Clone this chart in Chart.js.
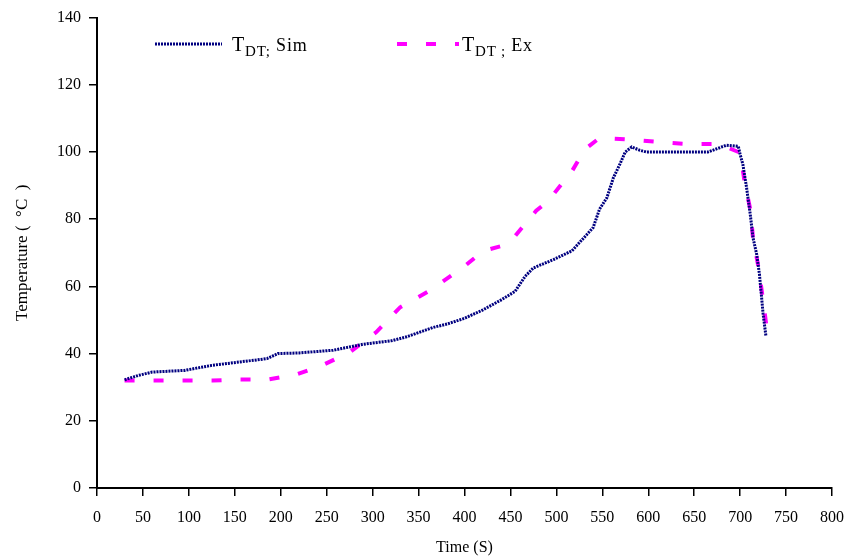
<!DOCTYPE html>
<html>
<head>
<meta charset="utf-8">
<script src="https://cdn.jsdelivr.net/npm/chart.js@4.4.1/dist/chart.umd.min.js"></script>
<style>
  html, body { margin: 0; padding: 0; background: #fff; }
  #wrap { position: relative; width: 858px; height: 560px; }
  canvas { position: absolute; left: 0; top: 0; }
  .leg { position: absolute; font-family: "Liberation Serif", "DejaVu Serif", serif; font-size: 18px; color: #000; white-space: nowrap; letter-spacing: 0.8px; line-height: 20px; }
  .leg .big { font-size: 20px; }
  .leg sub { font-size: 15px; vertical-align: -5px; }
</style>
</head>
<body>
<div id="wrap">
  <canvas id="c" width="858" height="560"></canvas>
  <div class="leg" style="left:232px; top:34px;"><span class="big">T</span><sub>DT;</sub> Sim</div>
  <div class="leg" style="left:462px; top:34px;"><span class="big">T</span><sub>DT ;</sub> Ex</div>
</div>
<script>
// ---- data ----
const simTime = [30,45,60,95,125,155,185,197,220,257,290,320,337,366,381,400,420,440,455,466,475,497,517,530,540,547,555,562,569,575,582,591,598,630,665,675,685,698,700,703,707,711,714,718,721,723,725,728];
const simTemp = [32.2,33.5,34.5,35,36.5,37.5,38.5,40,40.2,41,42.8,43.8,45,47.8,48.8,50.5,53,56,58.5,63,65.5,68,70.6,74.5,77.5,83,86.4,92.3,96.3,100,101.5,100.5,100,100,100,101,102,101.7,99.3,96.3,89.4,81.5,74.5,69.6,63.7,57.8,51.8,45.4];
const exTime = [30,65,96,126,156,186,217,245,275,304,330,362,400,420,440,455,478,491,507,517,531,547,580,611,642,673,680,700,705,711,714,720,725,729];
const exTemp = [32,32,32,32,32.3,32.3,33.8,36.5,40.4,46.4,53.8,58.7,66,70.5,72,75,82.5,85.4,90.9,94.3,100.8,104.2,103.7,103,102.4,102.4,102,99.8,90.9,83,74.5,65.6,55.8,47.4];
const xTicks = [0,50,100,150,200,250,300,350,400,450,500,550,600,650,700,750,800];
const yTicks = [0,20,40,60,80,100,120,140];
const seriesNames = ["T DT; Sim", "T DT ; Ex"];
const xTitle = "Time (S)";
const yTitle = "Temperature (  °C  )";

const toPts = (xs, ys) => xs.map((x, i) => ({ x: x, y: ys[i] }));
const family = "'Liberation Serif', 'DejaVu Serif', serif";
const tickFont = { family: family, size: 16 };

// legend line samples drawn on canvas (no text)
const legendSamples = {
  id: 'legendSamples',
  afterDraw(chart) {
    const ctx = chart.ctx;
    ctx.save();
    ctx.strokeStyle = '#000080';
    ctx.lineWidth = 3;
    ctx.setLineDash([2, 1]);
    ctx.beginPath(); ctx.moveTo(155, 44); ctx.lineTo(222, 44); ctx.stroke();
    ctx.strokeStyle = '#FF00FF';
    ctx.lineWidth = 4;
    ctx.setLineDash([10, 19]);
    ctx.beginPath(); ctx.moveTo(397, 44); ctx.lineTo(459, 44); ctx.stroke();
    ctx.restore();
  }
};

new Chart(document.getElementById('c'), {
  type: 'scatter',
  data: {
    datasets: [
      { label: seriesNames[0], data: toPts(simTime, simTemp), showLine: true, borderColor: '#000080', borderWidth: 3, borderDash: [2, 1], pointRadius: 0, tension: 0 },
      { label: seriesNames[1], data: toPts(exTime, exTemp), showLine: true, borderColor: '#FF00FF', borderWidth: 4, borderDash: [10, 19], pointRadius: 0, tension: 0 }
    ]
  },
  options: {
    responsive: false,
    animation: false,
    layout: { padding: { top: 16, right: 26, left: 0, bottom: 0 } },
    plugins: { legend: { display: false }, tooltip: { enabled: false } },
    scales: {
      x: {
        type: 'linear', min: 0, max: 800,
        afterBuildTicks: s => { s.ticks = xTicks.map(v => ({ value: v })); },
        afterFit: s => { s.height = 72; },
        ticks: { color: '#000', font: tickFont, padding: 12, maxRotation: 0, autoSkip: false },
        grid: { drawOnChartArea: false, drawTicks: true, tickLength: 8, color: '#000', lineWidth: 1.5 },
        border: { display: true, color: '#000', width: 2 },
        title: { display: true, text: xTitle, color: '#000', font: { family: family, size: 16 }, padding: { top: 0, bottom: 3 } }
      },
      y: {
        min: 0, max: 140,
        afterBuildTicks: s => { s.ticks = yTicks.map(v => ({ value: v })); },
        afterFit: s => { s.width = 97; },
        ticks: { color: '#000', font: tickFont, padding: 8 },
        grid: { drawOnChartArea: false, drawTicks: true, tickLength: 8, color: '#000', lineWidth: 1.5 },
        border: { display: true, color: '#000', width: 2 },
        title: { display: true, text: yTitle, color: '#000', font: { family: family, size: 17 }, padding: { top: 12, bottom: 4 } }
      }
    }
  },
  plugins: [legendSamples]
});
</script>
</body>
</html>
